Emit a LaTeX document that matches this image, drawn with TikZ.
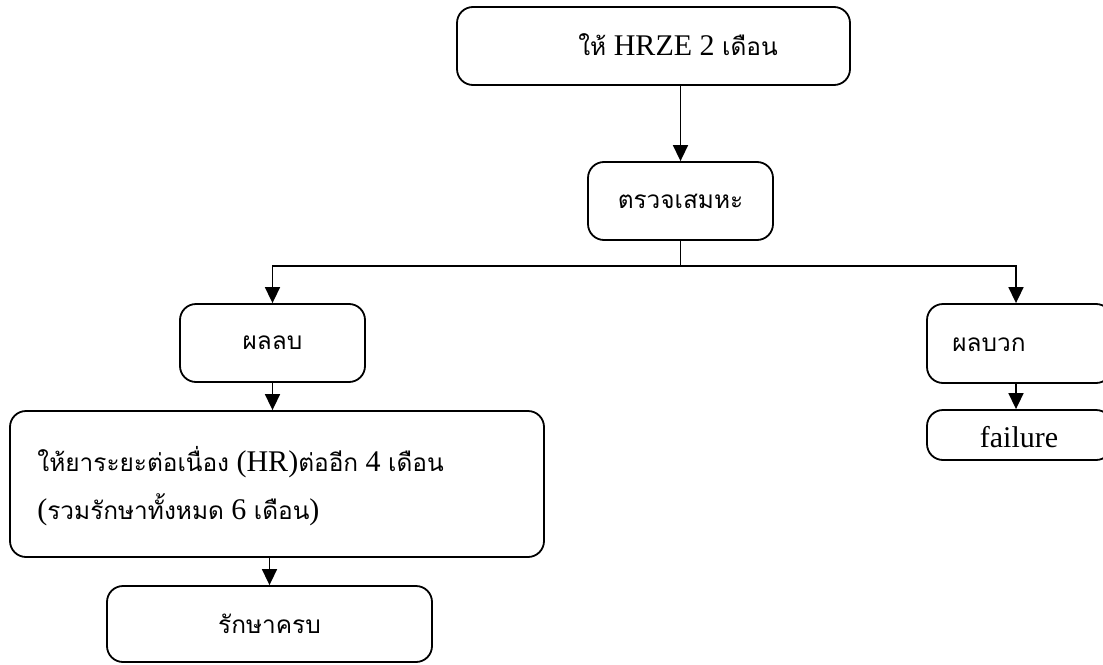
\documentclass[tikz,border=0pt]{standalone}
\usepackage{fontspec}
\setmainfont{Liberation Serif}
\newfontfamily\thaifont[Script=Thai]{Loma}
\usetikzlibrary{arrows.meta}
\newcommand{\thtxt}[1]{{\thaifont\fontsize{12.2}{15}\selectfont #1}}

\begin{document}
\begin{tikzpicture}[x=0.5pt, y=-0.5pt,
		box/.style={draw, rounded corners=8pt, line width=0.9pt, inner sep=0pt},
		txt/.style={font=\fontsize{15}{18}\selectfont, inner sep=0pt},
		arr/.style={-{Triangle[width=7.5pt,length=8pt]}, line width=0.8pt}]
			%%%%% START %%%%%
			\useasboundingbox (0,0) rectangle (1103,664);
			
			\node[box, minimum width=196.5pt, minimum height=39pt] (hrze) at (653.5,46) {};
			\node[txt] (hrzeT) at (678,45) {\thtxt{ให้} HRZE 2 \thtxt{เดือน}};
			
			\node[box, txt, minimum width=92.5pt, minimum height=39pt] (sputum) at (680.5,201) {\thtxt{ตรวจเสมหะ}};
			
			\node[box, txt, minimum width=92.5pt, minimum height=39pt] (neg) at (272.5,343) {\thtxt{ผลลบ}};
			\node[box, minimum width=92.5pt, minimum height=39.5pt] (pos) at (1019.5,343.5) {};
			\node[txt, anchor=west] (posT) at (952,345) {\thtxt{ผลบวก}};
			
			\node[box, minimum width=92.5pt, minimum height=25pt] (fail) at (1019.5,435) {};
			\node[txt] (failT) at (1019,437) {failure};
			
			\node[box, minimum width=267pt, minimum height=73pt] (cont) at (277,484) {};
			\node[txt, anchor=west, align=left] (contT) at (37,486)
				{\thtxt{ให้ยาระยะต่อเนื่อง} (HR)\thtxt{ต่ออีก} 4 \thtxt{เดือน}\\[6pt]
				 (\thtxt{รวมรักษาทั้งหมด} 6 \thtxt{เดือน})};
			
			\node[box, txt, minimum width=162.5pt, minimum height=38pt] (done) at (269.5,624) {\thtxt{รักษาครบ}};
			
			% connectors
			\coordinate (split) at (680.5,266);
			\draw[arr] (hrze.south -| sputum.north) -- (sputum.north);
			\draw[line width=0.8pt] (sputum.south) -- (split);
			\draw[arr] (split) -| (neg.north);
			\draw[arr] (split) -| ([xshift=-1.75pt]pos.north);
			\draw[arr] ([xshift=-1.75pt]pos.south) -- ([xshift=-1.75pt]fail.north);
			\draw[arr] (neg.south) -- (neg.south |- cont.north);
			\draw[arr] (cont.south -| done.north) -- (done.north);
			
			%%%%% END %%%%%
\end{tikzpicture}
\end{document}
